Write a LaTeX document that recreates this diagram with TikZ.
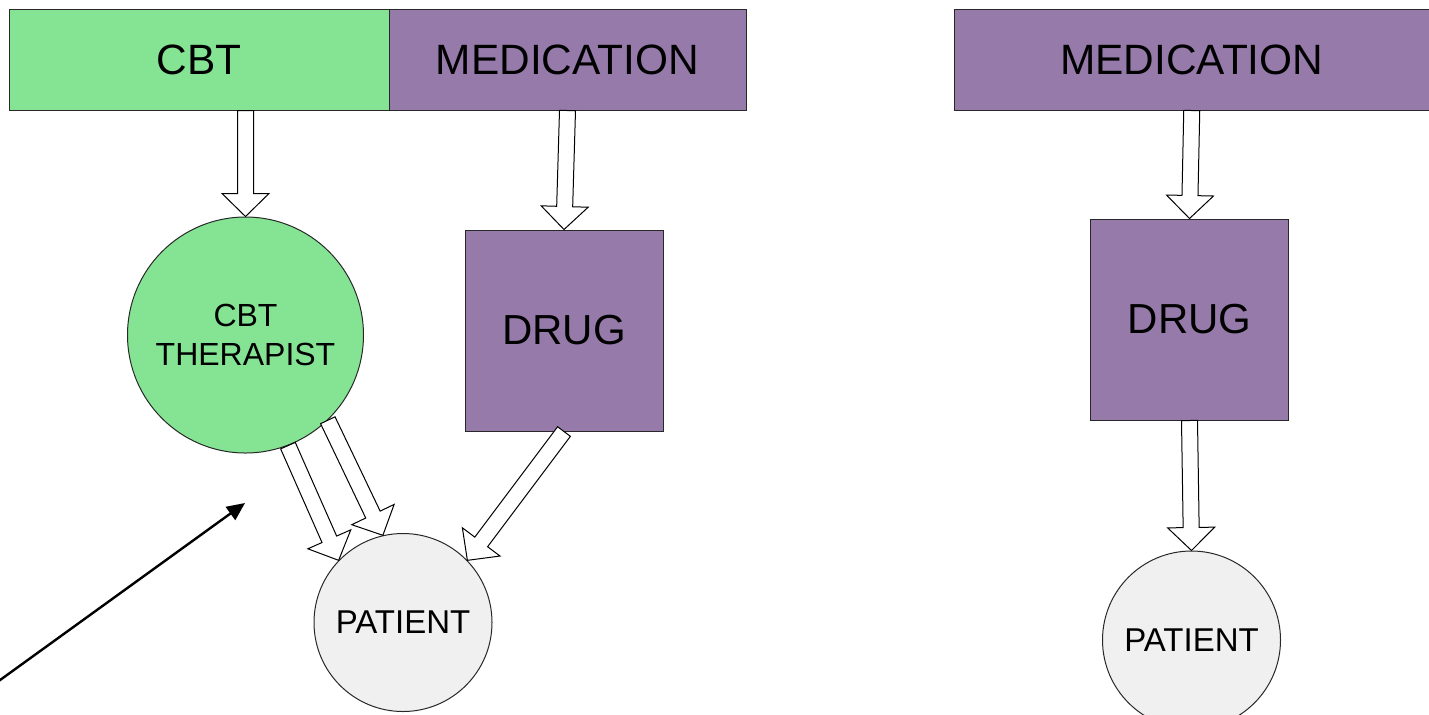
\documentclass[tikz,border=0pt]{standalone}
\usepackage{fontspec}
\setmainfont{Liberation Sans}
\usetikzlibrary{calc,arrows.meta}

\definecolor{cbtgreen}{RGB}{132,228,148}
\definecolor{medpurple}{RGB}{150,122,170}
\definecolor{patientgray}{RGB}{240,240,240}
\definecolor{edge}{RGB}{40,40,40}

\tikzset{
  x=0.5pt, y=-0.5pt,
  base/.style={draw=edge, line width=0.5pt, inner sep=0pt, text=black},
  header/.style={base, rectangle, minimum height=50.5pt, font=\fontsize{21.2}{24}\selectfont},
  drugbox/.style={base, rectangle, fill=medpurple, minimum width=99pt, minimum height=100.5pt,
    font=\fontsize{21}{24}\selectfont},
  therapistnode/.style={base, circle, fill=cbtgreen, minimum size=118pt, align=center,
    font=\fontsize{16}{19.5}\selectfont},
  patientnode/.style={base, circle, fill=patientgray, minimum size=89pt,
    font=\fontsize{16.5}{19}\selectfont},
  hollow/.style={draw=black, line width=0.5pt, fill=white, line join=miter},
  pointer/.style={draw=black, line width=1.2pt, -{Triangle[length=9pt,width=8pt]}}
}

% wide hollow arrow from #1 to the tip #2
\newcommand{\hollowarrow}[2]{%
  \coordinate (ha) at (#1);
  \coordinate (hb) at (#2);
  \coordinate (hm) at ($(hb)!11.5pt!(ha)$);
  \draw[hollow]
    ($(ha)!4pt!90:(hb)$) -- ($(hm)!4pt!90:(hb)$) -- ($(hm)!11.75pt!90:(hb)$)
    -- (hb) -- ($(hm)!11.75pt!-90:(hb)$) -- ($(hm)!4pt!-90:(hb)$)
    -- ($(ha)!4pt!-90:(hb)$) -- cycle;}

\begin{document}
\begin{tikzpicture}
  \useasboundingbox (0,0) rectangle (1429,714);
  \clip (0,0) rectangle (1429,714);

  % left scheme
  \node[header, fill=cbtgreen, minimum width=190pt] (cbt) at (199,59.5) {CBT};
  \node[header, fill=medpurple, minimum width=178.5pt] (medL) at (567.5,59.5) {MEDICATION};
  \node[therapistnode] (therapist) at (245.5,335) {CBT\\THERAPIST};
  \node[drugbox] (drugL) at (564,330.5) {DRUG};
  \node[patientnode] (patientL) at (403,622.5) {PATIENT};

  % right scheme
  \node[header, fill=medpurple, minimum width=237.75pt] (medR) at (1191.75,59.5) {MEDICATION};
  \node[drugbox] (drugR) at (1189.5,319.5) {DRUG};
  \node[patientnode] (patientR) at (1191.5,640) {PATIENT};

  % hollow arrows
  \hollowarrow{therapist.north |- cbt.south}{therapist.north}
  \hollowarrow{medL.south}{drugL.north}
  \hollowarrow{therapist.-69}{patientL.136}
  \hollowarrow{therapist.-46}{patientL.103}
  \hollowarrow{drugL.south}{patientL.44}
  \hollowarrow{medR.south}{drugR.north}
  \hollowarrow{drugR.south}{patientR.north}

  % pointer arrow
  \coordinate (pstart) at (-2,681.5);
  \coordinate (ptip) at (245,503);
  \draw[pointer] (pstart) -- (ptip);
\end{tikzpicture}
\end{document}
